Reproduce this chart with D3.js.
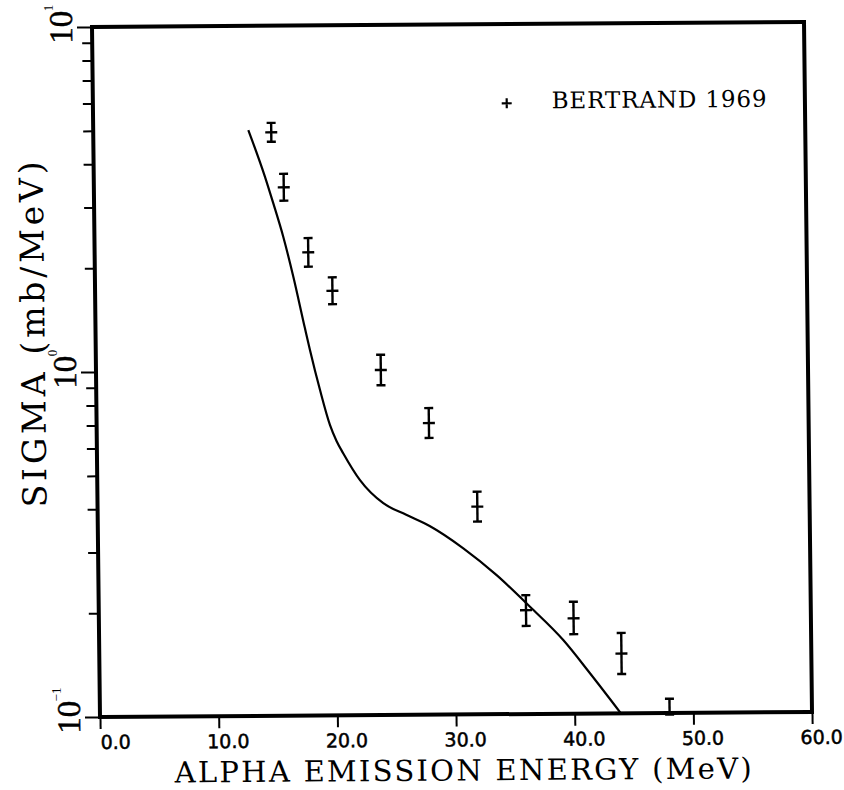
<!DOCTYPE html>
<html>
<head>
<meta charset="utf-8">
<script src="https://cdn.jsdelivr.net/npm/d3@7/dist/d3.min.js"></script>
<style>
  html, body { margin: 0; padding: 0; background: #fff; }
  svg { display: block; }
</style>
</head>
<body>
<svg id="chart" width="844" height="790"></svg>
<script>
// ---------------- data ----------------
const energy    = [15, 16, 18, 20, 24, 28, 32, 36, 40, 44, 48];
const sigma     = [4.91, 3.40, 2.20, 1.70, 1.00, 0.70, 0.40, 0.200, 0.189, 0.149, 0.100];
const sigmaLow  = [4.61, 3.11, 2.00, 1.555, 0.903, 0.634, 0.362, 0.180, 0.170, 0.130, 0.099];
const sigmaHigh = [5.23, 3.72, 2.42, 1.86, 1.107, 0.774, 0.442, 0.221, 0.211, 0.171, 0.110];

const curveE = [13.07, 14.43, 15.10, 15.91, 16.72, 17.65, 18.05, 18.86, 19.66, 20.2, 20.76, 22.14, 24.08, 26.0, 28.0, 30.78, 33.56, 36.34, 39.11, 41.33, 43.9];
const curveS = [4.99, 3.65, 3.06, 2.445, 1.871, 1.325, 1.147, 0.877, 0.695, 0.624, 0.574, 0.480, 0.411, 0.380, 0.3516, 0.303, 0.253, 0.2046, 0.1636, 0.1309, 0.100];

const xTickValues = [0, 10, 20, 30, 40, 50, 60];
const xTickLabels = ["0.0", "10.0", "20.0", "30.0", "40.0", "50.0", "60.0"];
const yMajorValues = [0.1, 1, 10];
const yMajorExponents = ["\u22121", "0", "1"];
const legendLabel = "BERTRAND 1969";
const xTitle = "ALPHA EMISSION ENERGY (MeV)";
const yTitle = "SIGMA (mb/MeV)";

// ---------------- layout ----------------
const L = 100, R = 812, T = 27, B = 717;
const x = d3.scaleLinear().domain([0, 60]).range([L, R]);
const y = d3.scaleLog().domain([0.1, 10]).range([B, T]);

const svg = d3.select("#chart");
// slight skew of the scanned original
const g = svg.append("g").attr("transform", "matrix(1,-0.00702,0.01159,1,-8.31,0.702)");

const ink = "#000";
const serif = "'DejaVu Serif', serif";

// ---------------- curve ----------------
const curvePts = curveE.map((e, i) => [e, curveS[i]]);
g.append("path")
  .datum(curvePts)
  .attr("fill", "none")
  .attr("stroke", ink)
  .attr("stroke-width", 2.2)
  .attr("stroke-linejoin", "round")
  .attr("d", d3.line().x(d => x(d[0])).y(d => y(d[1])).curve(d3.curveMonotoneX));

// ---------------- data points with error bars ----------------
const pts = g.append("g").attr("stroke", ink).attr("stroke-width", 2.4).attr("fill", "none");
energy.forEach((e, i) => {
  const cx = x(e);
  pts.append("line").attr("x1", cx).attr("x2", cx).attr("y1", y(sigmaLow[i])).attr("y2", y(sigmaHigh[i]));
  pts.append("line").attr("x1", cx - 4.5).attr("x2", cx + 4.5).attr("y1", y(sigmaLow[i])).attr("y2", y(sigmaLow[i]));
  pts.append("line").attr("x1", cx - 4.5).attr("x2", cx + 4.5).attr("y1", y(sigmaHigh[i])).attr("y2", y(sigmaHigh[i]));
  pts.append("line").attr("x1", cx - 6).attr("x2", cx + 6).attr("y1", y(sigma[i])).attr("y2", y(sigma[i]));
});

// ---------------- frame ----------------
g.append("rect")
  .attr("x", L).attr("y", T).attr("width", R - L).attr("height", B - T)
  .attr("fill", "none").attr("stroke", ink).attr("stroke-width", 4);

// ---------------- x axis ----------------
const xAxis = d3.axisBottom(x)
  .tickValues(xTickValues)
  .tickSize(12)
  .tickFormat((d, i) => xTickLabels[i]);
const xg = g.append("g").attr("transform", `translate(0,${B})`).call(xAxis);
xg.select(".domain").remove();
xg.selectAll(".tick line").attr("stroke", ink).attr("stroke-width", 2);
xg.selectAll(".tick text")
  .attr("font-family", "'DejaVu Sans', sans-serif")
  .attr("font-size", 19)
  .attr("fill", ink)
  .attr("stroke", ink)
  .attr("stroke-width", 0.5)
  .attr("text-anchor", "end")
  .attr("x", 30)
  .attr("y", 32)
  .attr("dy", 0);

// ---------------- y axis ----------------
const yAxis = d3.axisLeft(y)
  .tickValues(y.ticks())
  .tickSize(10)
  .tickFormat("");
const yg = g.append("g").attr("transform", `translate(${L},0)`).call(yAxis);
yg.select(".domain").remove();
yg.selectAll(".tick line")
  .attr("stroke", ink).attr("stroke-width", 2)
  .attr("x2", d => (yMajorValues.some(m => Math.abs(m - d) < 1e-9) ? -15 : -10));

yMajorValues.forEach((v, i) => {
  const lg = g.append("g").attr("transform", `translate(80,${y(v)}) rotate(-90)`);
  lg.append("text")
    .attr("x", 0).attr("y", 0)
    .attr("text-anchor", "middle")
    .attr("font-family", "'Liberation Serif', serif")
    .attr("font-size", 33)
    .attr("fill", ink)
    .attr("stroke", ink)
    .attr("stroke-width", 0.4)
    .text("10");
  lg.append("text")
    .attr("x", 16).attr("y", -19)
    .attr("text-anchor", "start")
    .attr("font-family", "'Liberation Serif', serif")
    .attr("font-size", 13)
    .attr("fill", ink)
    .text(yMajorExponents[i]);
});

// ---------------- titles ----------------
g.append("text")
  .attr("x", 174).attr("y", 783)
  .attr("font-family", serif)
  .attr("font-size", 29)
  .attr("fill", ink)
  .attr("textLength", 577)
  .attr("lengthAdjust", "spacing")
  .text(xTitle);

g.append("text")
  .attr("transform", "translate(49,334) rotate(-90)")
  .attr("text-anchor", "middle")
  .attr("font-family", serif)
  .attr("font-size", 33)
  .attr("fill", ink)
  .attr("textLength", 346)
  .attr("lengthAdjust", "spacing")
  .text(yTitle);

// ---------------- legend ----------------
const lx = 513.8, ly = 106.2;
g.append("path")
  .attr("d", `M${lx - 5},${ly}H${lx + 5}M${lx},${ly - 5}V${ly + 5}`)
  .attr("stroke", ink).attr("stroke-width", 2.2).attr("fill", "none");
g.append("text")
  .attr("x", 558.7).attr("y", 111.5)
  .attr("font-family", serif)
  .attr("font-size", 23)
  .attr("fill", ink)
  .attr("textLength", 215)
  .attr("lengthAdjust", "spacing")
  .text(legendLabel);
</script>
</body>
</html>
